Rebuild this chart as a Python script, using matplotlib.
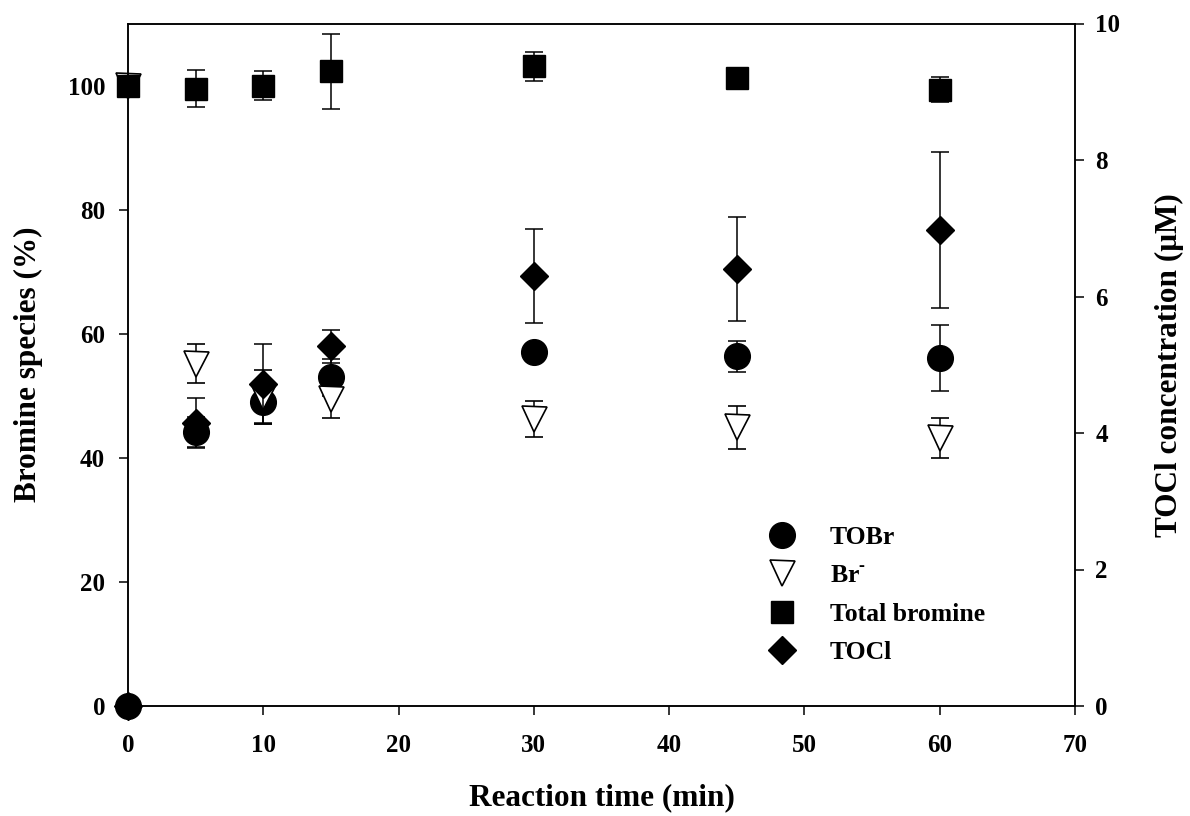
import matplotlib
matplotlib.use("Agg")
import matplotlib.pyplot as plt
from matplotlib.lines import Line2D

plt.rcParams['font.family'] = ['Liberation Serif', 'DejaVu Serif']
plt.rcParams['font.weight'] = 'bold'
plt.rcParams['mathtext.fontset'] = 'custom'
plt.rcParams['mathtext.rm'] = 'Liberation Serif:bold'
plt.rcParams['mathtext.bf'] = 'Liberation Serif:bold'

# temps de réaction (min)
time = [0, 5, 10, 15, 30, 45, 60]

# espèces bromées (%)
tobr = [0, 44.1, 49.0, 53.0, 57.1, 56.4, 56.1]
tobr_err = [0, 2.5, 3.5, 3.0, 1.0, 2.5, 5.3]
br = [100, 55.2, 49.8, 49.4, 46.2, 44.9, 43.2]
br_err = [0, 3.15, 4.3, 3.0, 2.9, 3.45, 3.2]
total = [100, 99.5, 100.0, 102.3, 103.1, 101.2, 99.3]
total_err = [0, 3.0, 2.3, 6.0, 2.3, 0.8, 2.0]

# TOCl (µM)
tocl = [0, 4.15, 4.72, 5.27, 6.30, 6.40, 6.97]
tocl_err = [0, 0.36, 0.58, 0.24, 0.69, 0.76, 1.14]

labels = ['TOBr', r'Br$^{\text{-}}$', 'Total bromine', 'TOCl']

fig = plt.figure(figsize=(11.9, 8.16), dpi=100)
ax = fig.add_axes([128/1190, 1-706/816, 947/1190, 682.5/816])
ax2 = ax.twinx()

eb = dict(ecolor='black', elinewidth=1.1, capsize=6.5, capthick=1.1, linestyle='none', clip_on=False)
ax.errorbar(time, tobr, yerr=tobr_err, marker='o', ms=18.5, mfc='black', mec='black', **eb)
ax.errorbar(time, br, yerr=br_err, marker='v', ms=18, mfc='white', mec='black', mew=1.2, **eb)
ax.errorbar(time, total, yerr=total_err, marker='s', ms=16, mfc='black', mec='black', **eb)
ax2.errorbar(time, tocl, yerr=tocl_err, marker='D', ms=14, mfc='black', mec='black', **eb)

ax.set_xlim(0, 70)
ax.set_ylim(0, 110)
ax2.set_ylim(0, 10)
ax.set_xticks(range(0, 71, 10))
ax.set_yticks(range(0, 101, 20))
ax2.set_yticks(range(0, 11, 2))

for a in (ax, ax2):
    for s in a.spines.values():
        s.set_linewidth(1.1)
ax.tick_params(axis='both', direction='out', length=6.5, width=1.1, labelsize=18)
ax.tick_params(axis='x', pad=14)
ax.tick_params(axis='y', pad=10)
ax2.tick_params(axis='y', direction='out', length=6.5, width=1.1, labelsize=18, pad=8)

ax.set_xlabel('Reaction time (min)', fontsize=22.5, fontweight='bold')
ax.set_ylabel('Bromine species (%)', fontsize=22.5, fontweight='bold')
ax2.set_ylabel('TOCl concentration (μM)', fontsize=22.5, fontweight='bold')
ax.xaxis.set_label_coords(0.5, -0.113)
ax.yaxis.set_label_coords(-0.09, 0.5)
ax2.yaxis.set_label_coords(1.084, 0.5)

handles = [
    Line2D([], [], marker='o', ms=18.5, mfc='black', mec='black', ls='none'),
    Line2D([], [], marker='v', ms=18, mfc='white', mec='black', mew=1.2, ls='none'),
    Line2D([], [], marker='s', ms=16, mfc='black', mec='black', ls='none'),
    Line2D([], [], marker='D', ms=14, mfc='black', mec='black', ls='none'),
]
ax2.legend(handles, labels, loc='upper left', bbox_to_anchor=(763/1190, 1-526/816),
           bbox_transform=fig.transFigure, frameon=False, fontsize=18.5,
           handlelength=1.5, handletextpad=1.1, labelspacing=0.6, borderpad=0, borderaxespad=0)

fig.savefig('out.png', dpi=100)
